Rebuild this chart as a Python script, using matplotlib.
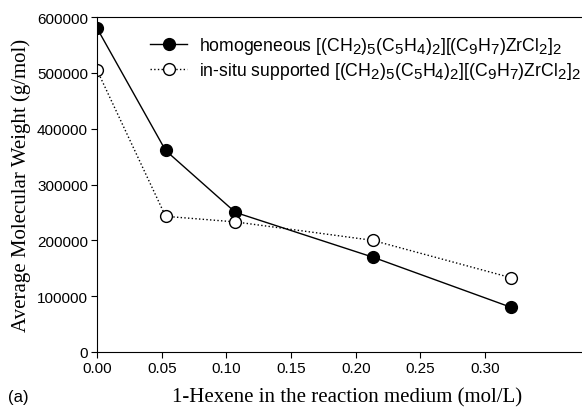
import matplotlib
matplotlib.use("Agg")
import matplotlib.pyplot as plt
import matplotlib._mathtext as mt

# subindices algo mas grandes, como en la figura original
mt.SHRINK_FACTOR = 0.85

# datos
hexeno = [0.0, 0.053, 0.107, 0.213, 0.32]
mw_homogeneo = [580000, 361000, 250000, 170000, 80000]
mw_soportado = [505000, 243000, 233000, 200000, 133000]

etiqueta_homo = r"homogeneous [(CH$_2$)$_5$(C$_5$H$_4$)$_2$][(C$_9$H$_7$)ZrCl$_2$]$_2$"
etiqueta_sop = r"in-situ supported [(CH$_2$)$_5$(C$_5$H$_4$)$_2$][(C$_9$H$_7$)ZrCl$_2$]$_2$"

plt.rcParams["font.family"] = "Liberation Sans"
plt.rcParams["mathtext.fontset"] = "custom"
plt.rcParams["mathtext.rm"] = "Liberation Sans"
plt.rcParams["mathtext.default"] = "rm"

fig = plt.figure(figsize=(5.82, 4.14), dpi=100)
W, H = 582, 414
x_max = 0.386
ancho = x_max / 0.05 * 64.7
ax = fig.add_axes([97 / W, 1 - 353 / H, ancho / W, (353 - 18) / H])

ax.plot(hexeno, mw_homogeneo, "-", color="black", lw=1.0, marker="o",
        ms=8.5, mfc="black", mec="black", label=etiqueta_homo)
ax.plot(hexeno, mw_soportado, ":", color="black", lw=1.0, marker="o",
        ms=8.5, mfc="white", mec="black", label=etiqueta_sop)

ax.set_xlim(0, x_max)
ax.set_ylim(0, 600000)
ax.set_xticks([0.0, 0.05, 0.10, 0.15, 0.20, 0.25, 0.30])
ax.set_xticklabels(["0.00", "0.05", "0.10", "0.15", "0.20", "0.25", "0.30"])
ax.set_yticks(range(0, 600001, 100000))
ax.tick_params(labelsize=11, direction="out", length=4, width=0.8, pad=2.5)
ax.spines["right"].set_visible(False)
for s in ax.spines.values():
    s.set_linewidth(0.8)

ax.set_xlabel("1-Hexene in the reaction medium (mol/L)", family="Liberation Serif",
              fontsize=15, labelpad=9)
ax.set_ylabel("Average Molecular Weight (g/mol)", family="Liberation Serif",
              fontsize=15, labelpad=4)

leg = ax.legend(loc="upper left", bbox_to_anchor=((150 - 97) / ancho, 0.945),
                frameon=False, fontsize=12.7, handlelength=2.1, handletextpad=0.65,
                labelspacing=0.22, borderaxespad=0, borderpad=0)

fig.text(8 / W, 1 - 398 / H, "(a)", fontsize=12, va="center")

fig.savefig("out.png", dpi=100)
